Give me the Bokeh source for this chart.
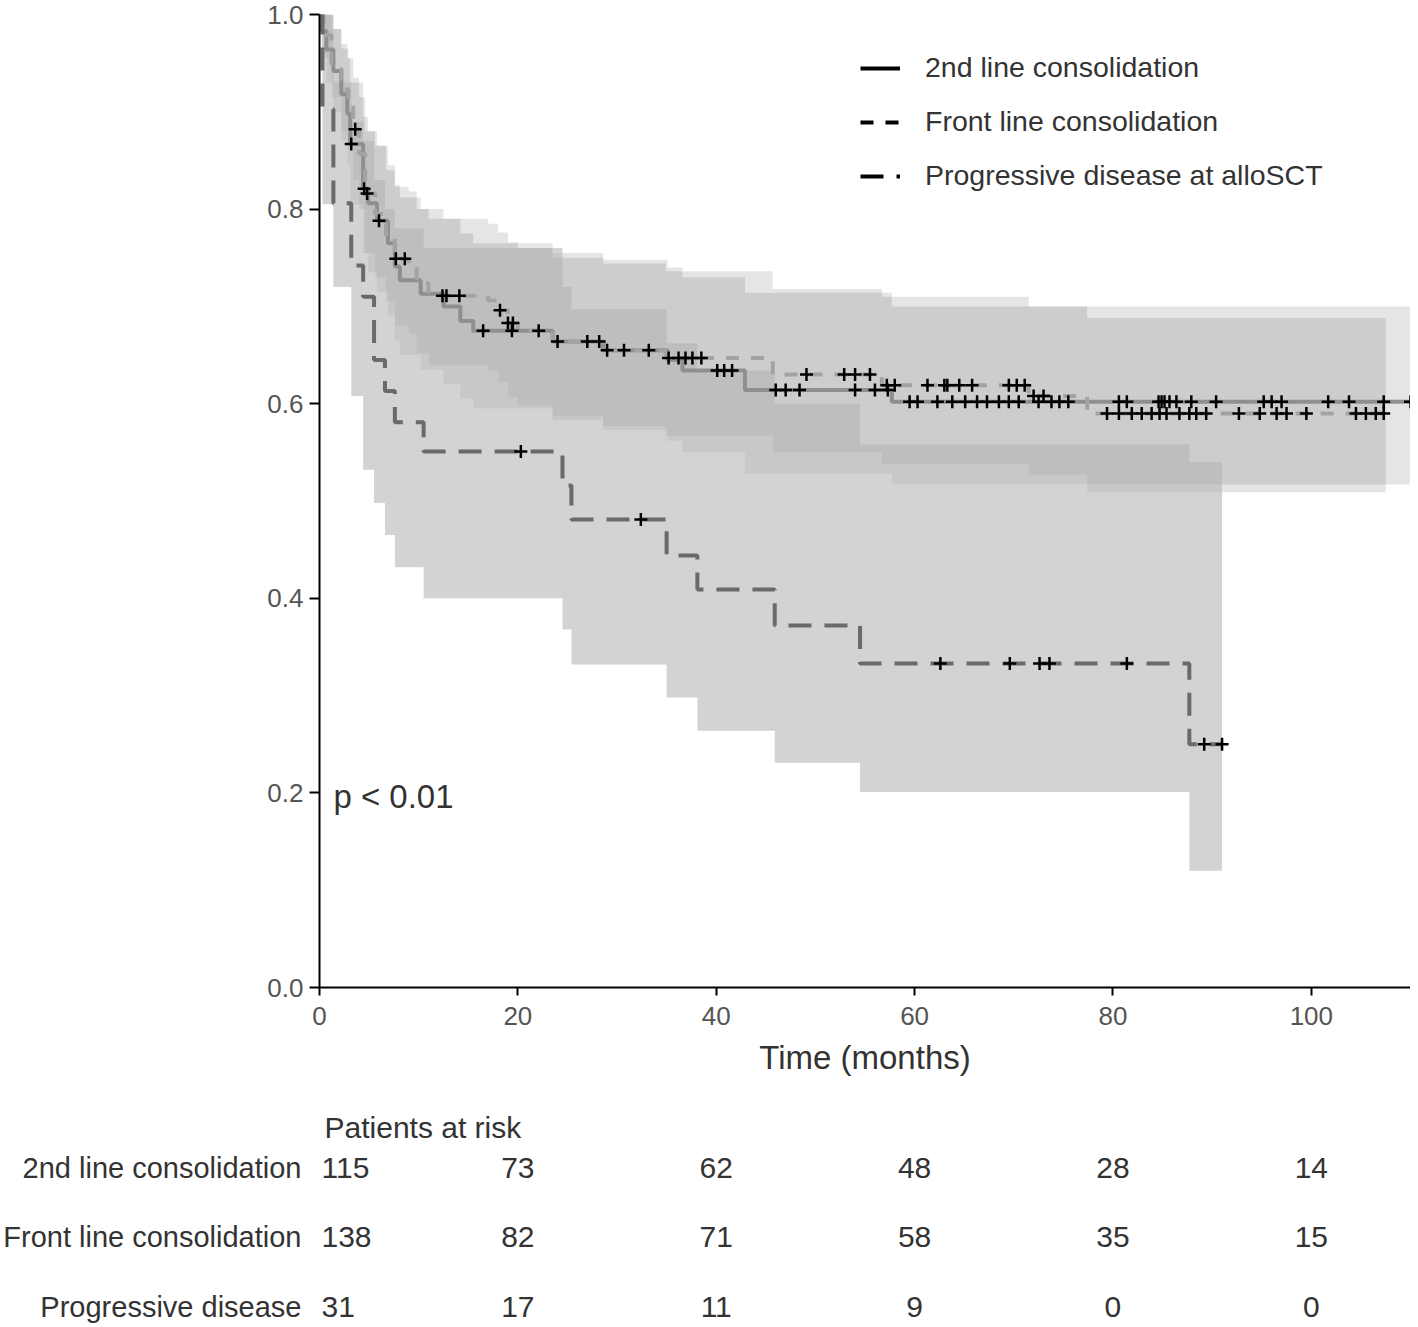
import numpy as np
from bokeh.plotting import figure
from bokeh.models import (Range1d, ColumnDataSource, Legend, LegendItem,
                          FixedTicker, NumeralTickFormatter)
from bokeh.layouts import column
from bokeh.embed import file_html
from bokeh.resources import INLINE
from bokeh.core.properties import value

# ---------------- data ----------------
group_names = ["2nd line consolidation", "Front line consolidation",
               "Progressive disease at alloSCT"]
risk_row_labels = ["2nd line consolidation", "Front line consolidation",
                   "Progressive disease"]
time_ticks = [0, 20, 40, 60, 80, 100]
surv_ticks = [0.0, 0.2, 0.4, 0.6, 0.8, 1.0]

risk_second = [115, 73, 62, 48, 28, 14]
risk_front = [138, 82, 71, 58, 35, 15]
risk_prog = [31, 17, 11, 9, 0, 0]

# 2nd line consolidation (step times in months, survival, CI)
second_t = [0, 0.2, 0.7, 1.4, 2.2, 2.8, 3.1, 4.4, 4.9, 5.8, 6.9, 7.6, 8.1, 10.2,
            12.5, 14.2, 15.5, 23.5, 28.6, 35.1, 36.6, 42.9, 57.7]
second_s = [1.0, 0.983, 0.964, 0.942, 0.918, 0.898, 0.867, 0.821, 0.806, 0.788,
            0.765, 0.741, 0.727, 0.713, 0.700, 0.685, 0.675, 0.664, 0.655, 0.645,
            0.634, 0.614, 0.602]
second_lo = [1.0, 0.96, 0.93, 0.90, 0.87, 0.845, 0.805, 0.755, 0.735, 0.715, 0.69,
             0.665, 0.65, 0.635, 0.62, 0.605, 0.595, 0.583, 0.573, 0.562, 0.55,
             0.528, 0.517]
second_up = [1.0, 1.0, 1.0, 0.985, 0.97, 0.955, 0.93, 0.895, 0.88, 0.865, 0.845,
             0.825, 0.812, 0.80, 0.79, 0.775, 0.765, 0.755, 0.748, 0.740, 0.73,
             0.714, 0.70]
second_end = 110.0
second_cens = [3.2, 4.5, 6.0, 16.5, 19.4, 22.1, 24.0, 27.0, 28.2, 29.0, 30.7, 33.2,
               40.1, 40.8, 41.6, 46.0, 47.0, 48.4, 54.0, 56.0, 57.3, 59.5, 60.3,
               62.3, 63.8, 65.1, 66.3, 67.3, 68.5, 69.5, 70.5, 72.5, 73.8, 74.6,
               75.5, 80.6, 81.4, 84.6, 84.9, 85.2, 85.7, 86.4, 87.9, 90.4, 95.2,
               96.0, 97.0, 101.7, 103.8, 107.3, 110.0]

# Front line consolidation
front_t = [0, 0.4, 1.2, 2.2, 2.9, 3.4, 4.0, 4.6, 5.6, 6.7, 7.6, 9.0, 9.8, 11.0,
           17.0, 18.0, 19.0, 20.0, 23.5, 28.6, 34.9, 45.7, 56.7, 71.5, 77.4]
front_s = [1.0, 0.979, 0.949, 0.923, 0.908, 0.882, 0.857, 0.816, 0.795, 0.770,
           0.749, 0.742, 0.724, 0.711, 0.706, 0.696, 0.683, 0.675, 0.664, 0.655,
           0.647, 0.630, 0.619, 0.608, 0.590]
front_lo = [1.0, 0.955, 0.915, 0.88, 0.862, 0.83, 0.80, 0.755, 0.73, 0.705, 0.68,
            0.672, 0.652, 0.64, 0.634, 0.622, 0.607, 0.598, 0.587, 0.577, 0.567,
            0.55, 0.538, 0.527, 0.509]
front_up = [1.0, 1.0, 0.985, 0.965, 0.955, 0.935, 0.915, 0.88, 0.865, 0.84, 0.823,
            0.818, 0.80, 0.79, 0.785, 0.776, 0.766, 0.76, 0.75, 0.744, 0.736,
            0.718, 0.71, 0.70, 0.688]
front_end = 107.5
front_cens = [3.6, 4.8, 7.7, 8.6, 12.4, 12.8, 14.1, 18.2, 19.0, 19.5, 35.2, 36.2,
              36.9, 37.6, 38.5, 49.1, 52.9, 54.0, 55.5, 57.2, 58.0, 61.3, 63.0,
              63.3, 64.5, 65.8, 69.5, 70.3, 71.1, 72.0, 73.0, 79.4, 80.6, 81.9,
              82.9, 83.9, 84.7, 85.4, 86.7, 87.7, 88.4, 89.4, 92.7, 94.8, 96.5,
              97.5, 99.5, 104.5, 105.5, 106.5, 107.3]

# Progressive disease at alloSCT
prog_t = [0, 0.3, 1.4, 3.2, 4.4, 5.5, 6.6, 7.6, 10.5, 24.5, 25.4, 35.0, 38.1,
          45.9, 54.5, 87.7]
prog_s = [1.0, 0.903, 0.806, 0.742, 0.710, 0.645, 0.613, 0.581, 0.551, 0.516,
          0.481, 0.444, 0.409, 0.372, 0.333, 0.250]
prog_lo = [1.0, 0.805, 0.72, 0.608, 0.532, 0.498, 0.465, 0.432, 0.40, 0.368,
           0.332, 0.298, 0.264, 0.231, 0.201, 0.12]
prog_up = [1.0, 1.0, 0.93, 0.89, 0.87, 0.83, 0.80, 0.78, 0.76, 0.72, 0.697,
           0.662, 0.634, 0.60, 0.558, 0.54]
prog_end = 91.0
prog_cens = [20.3, 32.4, 62.6, 69.6, 72.6, 73.6, 81.4, 89.2, 91.0]

p_value_text = "p < 0.01"

# ---------------- layout constants ----------------
W = 1410
LEFT = 316
TOP = 14
FRAME_BOTTOM = 987
H1 = 1085
H2 = 240
X_END = 110
FONT = "Liberation Sans"


def stair(t, v, t_end):
    xs, ys = [], []
    for i in range(len(t)):
        x1 = t[i + 1] if i + 1 < len(t) else t_end
        xs += [t[i], x1]
        ys += [v[i], v[i]]
    return xs, ys


def at(t, v, times):
    idx = np.searchsorted(np.array(t), np.array(times), side="right") - 1
    return [v[i] for i in idx]


p = figure(width=W, height=H1, x_range=Range1d(0, X_END), y_range=Range1d(0, 1),
           output_backend="svg", toolbar_location=None,
           min_border_left=LEFT, min_border_right=0, min_border_top=TOP,
           min_border_bottom=H1 - FRAME_BOTTOM, outline_line_color=None)
p.xgrid.visible = False
p.ygrid.visible = False

curves = {
    "second": (second_t, second_s, second_lo, second_up, second_end, second_cens,
               "#8f8f8f", "solid"),
    "front": (front_t, front_s, front_lo, front_up, front_end, front_cens,
              "#a3a3a3", "13 12"),
    "prog": (prog_t, prog_s, prog_lo, prog_up, prog_end, prog_cens,
             "#6a6a6a", "23 13"),
}
band_style = {"second": ("black", 0.10), "front": ("black", 0.10),
              "prog": ("#b4b4b4", 0.59)}

# confidence bands
for key in ["second", "front", "prog"]:
    t, s, lo, up, te, cens, col, dash = curves[key]
    bx, blo = stair(t, lo, te)
    _, bup = stair(t, up, te)
    fc, fa = band_style[key]
    p.varea(x=bx, y1=blo, y2=bup, fill_color=fc, fill_alpha=fa)

# survival curves
for key in ["second", "front", "prog"]:
    t, s, lo, up, te, cens, col, dash = curves[key]
    lx, ly = stair(t, s, te)
    p.line(lx, ly, line_color=col, line_width=4, line_dash=dash)

# censor marks
for key in ["second", "front", "prog"]:
    t, s, lo, up, te, cens, col, dash = curves[key]
    p.scatter(cens, at(t, s, cens), marker="cross", size=13, line_width=2.5,
              line_color="black")

# p value
p.text(x=[1.4], y=[0.196], text=[p_value_text], text_font=value(FONT),
       text_font_size="33px", text_color="#333333", text_baseline="middle")

# legend: black proxies (hidden renderers carrying the same curve data)
items = []
for key, name in zip(["second", "front", "prog"], group_names):
    t, s, lo, up, te, cens, col, dash = curves[key]
    lx, ly = stair(t, s, te)
    r = p.line(lx, ly, line_color="black", line_width=4, line_dash=dash,
               visible=False)
    items.append(LegendItem(label=name, renderers=[r]))
legend = Legend(items=items, location=(541, 795), padding=0, margin=0,
                border_line_color=None, background_fill_alpha=0,
                inactive_fill_alpha=0,
                glyph_width=40, glyph_height=30, label_height=30,
                label_standoff=25, spacing=21,
                label_text_font=FONT, label_text_font_size="28.5px",
                label_text_color="#333333")
p.add_layout(legend)

# axes
p.xaxis.ticker = FixedTicker(ticks=time_ticks)
p.yaxis.ticker = FixedTicker(ticks=surv_ticks)
p.yaxis.formatter = NumeralTickFormatter(format="0.0")
for ax in (p.xaxis[0], p.yaxis[0]):
    ax.axis_line_color = "black"
    ax.axis_line_width = 2
    ax.major_tick_line_color = "black"
    ax.major_tick_line_width = 2
    ax.major_tick_in = 0
    ax.minor_tick_out = 0
    ax.minor_tick_in = 0
    ax.major_label_text_font = FONT
    ax.major_label_text_font_size = "26px"
    ax.major_label_text_color = "#555555"
p.xaxis.major_tick_out = 8
p.yaxis.major_tick_out = 10
p.yaxis.major_label_standoff = 6
p.xaxis.major_label_standoff = 11
p.xaxis.axis_label = "Time (months)"
p.xaxis.axis_label_text_font = FONT
p.xaxis.axis_label_text_font_size = "33px"
p.xaxis.axis_label_text_font_style = "normal"
p.xaxis.axis_label_text_color = "#333333"
p.xaxis.axis_label_standoff = 11

# ---------------- risk table ----------------
ROW1 = 82
ROW_PX = 69.5
y_top_val = (0 - ROW1) / ROW_PX + 1
y_bot_val = (H2 - ROW1) / ROW_PX + 1

tbl = figure(width=W, height=H2, x_range=p.x_range,
             y_range=Range1d(y_bot_val, y_top_val), output_backend="svg",
             toolbar_location=None, min_border=0, min_border_left=LEFT,
             x_axis_location=None, y_axis_location="left",
             outline_line_color=None)
tbl.grid.visible = False

# row labels as the table's own (left) axis labels
row_pos = [1, 2, 3]
tbl.yaxis.ticker = FixedTicker(ticks=row_pos)
tbl.yaxis.major_label_overrides = {float(k): lab for k, lab in
                                   zip(row_pos, risk_row_labels)}
tbl.yaxis.axis_line_color = None
tbl.yaxis.major_tick_line_color = None
tbl.yaxis.minor_tick_line_color = None
tbl.yaxis.major_tick_out = 0
tbl.yaxis.major_tick_in = 0
tbl.yaxis.major_label_standoff = 18
tbl.yaxis.major_label_text_font = FONT
tbl.yaxis.major_label_text_font_size = "29px"
tbl.yaxis.major_label_text_color = "#333333"

risk_rows = [risk_second, risk_front, risk_prog]
first_src = ColumnDataSource(dict(
    x=[time_ticks[0]] * 3, y=row_pos,
    text=[str(r[0]) for r in risk_rows]))
rest_x, rest_y, rest_txt = [], [], []
for i, r in enumerate(risk_rows):
    for tt, n in zip(time_ticks[1:], r[1:]):
        rest_x.append(tt)
        rest_y.append(row_pos[i])
        rest_txt.append(str(n))
rest_src = ColumnDataSource(dict(x=rest_x, y=rest_y, text=rest_txt))

common = dict(text_font=value(FONT), text_font_size="30px",
              text_color="#333333", text_baseline="middle")
tbl.text(x="x", y="y", text="text", source=first_src, text_align="left",
         x_offset=2, **common)
tbl.text(x="x", y="y", text="text", source=rest_src, text_align="center",
         **common)
tbl.text(x=[0], y=[1 - 40 / ROW_PX], text=["Patients at risk"], text_align="left",
         x_offset=5, **common)

layout = column(p, tbl)
open("out.html", "w").write(file_html(layout, INLINE))
